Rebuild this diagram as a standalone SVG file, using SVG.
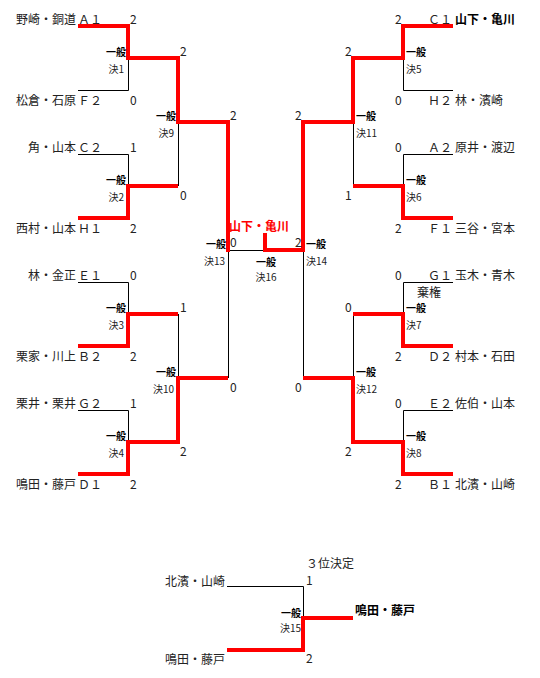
<svg xmlns="http://www.w3.org/2000/svg" width="540" height="678" viewBox="0 0 540 678">
<style>
text{font-family:"Noto Sans CJK JP","Noto Sans",sans-serif;fill:#222}
.n{font-size:12px}
.s{font-size:12px}
.g{font-size:10px;font-weight:bold;fill:#000}
.k{font-size:10px}
.w{font-size:12px;font-weight:bold;fill:#000}
.c{font-size:12px;font-weight:bold;fill:#ff0000}
.e{text-anchor:end}
.m{text-anchor:middle}
.b{fill:none;stroke:#000;stroke-width:1}
.r{fill:none;stroke:#ff0000;stroke-width:4;stroke-linejoin:miter}
</style>
<rect width="540" height="678" fill="#fff"/>
<g id="connectors">
<g class="b">
<polyline points="78,90.5 128.5,90.5 128.5,58"/>
<polyline points="78,154.5 128.5,154.5 128.5,186"/>
<polyline points="178.5,122 178.5,186"/>
<polyline points="78,282.5 128.5,282.5 128.5,314"/>
<polyline points="178.5,314 178.5,378"/>
<polyline points="78,410.5 128.5,410.5 128.5,442"/>
<polyline points="228.5,250 228.5,378"/>
<polyline points="228,250.5 303,250.5"/>
<polyline points="453,90.5 403.5,90.5 403.5,58"/>
<polyline points="453,154.5 403.5,154.5 403.5,186"/>
<polyline points="353.5,122 353.5,186"/>
<polyline points="453,282.5 403.5,282.5 403.5,314"/>
<polyline points="353.5,314 353.5,378"/>
<polyline points="453,410.5 403.5,410.5 403.5,442"/>
<polyline points="303.5,250 303.5,378"/>
<polyline points="227,586.5 303.5,586.5 303.5,618"/>
</g>
<g class="r">
<polyline points="78,26 128,26 128,58 178,58 178,122 228,122 228,252"/>
<polyline points="78,218 128,218 128,186 178,186"/>
<polyline points="78,346 128,346 128,314 178,314"/>
<polyline points="78,474 128,474 128,442 178,442 178,378 228,378"/>
<polyline points="453,26 403,26 403,58 353,58 353,122 303,122 303,250 265,250 265,233"/>
<polyline points="453,218 403,218 403,186 353,186"/>
<polyline points="453,346 403,346 403,314 353,314"/>
<polyline points="453,474 403,474 403,442 353,442 353,378 303,378"/>
<polyline points="227,650 303,650 303,618 353,618"/>
</g>
</g>
<g id="team-L1"><text class="n e" x="76" y="24">野崎・銅道</text><text class="n" x="78" y="24">Ａ１</text></g>
<g id="team-L2"><text class="n e" x="76" y="105">松倉・石原</text><text class="n" x="78" y="105">Ｆ２</text></g>
<g id="team-L3"><text class="n e" x="76" y="152">角・山本</text><text class="n" x="78" y="152">Ｃ２</text></g>
<g id="team-L4"><text class="n e" x="76" y="233">西村・山本</text><text class="n" x="78" y="233">Ｈ１</text></g>
<g id="team-L5"><text class="n e" x="76" y="280">林・金正</text><text class="n" x="78" y="280">Ｅ１</text></g>
<g id="team-L6"><text class="n e" x="76" y="361">栗家・川上</text><text class="n" x="78" y="361">Ｂ２</text></g>
<g id="team-L7"><text class="n e" x="76" y="408">栗井・栗井</text><text class="n" x="78" y="408">Ｇ２</text></g>
<g id="team-L8"><text class="n e" x="76" y="489">鳴田・藤戸</text><text class="n" x="78" y="489">Ｄ１</text></g>
<g id="team-R1"><text class="n" x="428" y="24">Ｃ１</text><text class="w" x="455" y="24">山下・亀川</text></g>
<g id="team-R2"><text class="n" x="428" y="105">Ｈ２</text><text class="n" x="455" y="105">林・濱崎</text></g>
<g id="team-R3"><text class="n" x="428" y="152">Ａ２</text><text class="n" x="455" y="152">原井・渡辺</text></g>
<g id="team-R4"><text class="n" x="428" y="233">Ｆ１</text><text class="n" x="455" y="233">三谷・宮本</text></g>
<g id="team-R5"><text class="n" x="428" y="280">Ｇ１</text><text class="n" x="455" y="280">玉木・青木</text><text class="n" x="417" y="297">棄権</text></g>
<g id="team-R6"><text class="n" x="428" y="361">Ｄ２</text><text class="n" x="455" y="361">村本・石田</text></g>
<g id="team-R7"><text class="n" x="428" y="408">Ｅ２</text><text class="n" x="455" y="408">佐伯・山本</text></g>
<g id="team-R8"><text class="n" x="428" y="489">Ｂ１</text><text class="n" x="455" y="489">北濱・山崎</text></g>
<g id="match1"><text class="s" x="130" y="24">2</text><text class="s" x="130" y="105">0</text><text class="g e" x="126" y="56">一般</text><text class="k e" x="124" y="73">決1</text></g>
<g id="match2"><text class="s" x="130" y="152">1</text><text class="s" x="130" y="233">2</text><text class="g e" x="126" y="184">一般</text><text class="k e" x="124" y="201">決2</text></g>
<g id="match3"><text class="s" x="130" y="280">0</text><text class="s" x="130" y="361">2</text><text class="g e" x="126" y="312">一般</text><text class="k e" x="124" y="329">決3</text></g>
<g id="match4"><text class="s" x="130" y="408">1</text><text class="s" x="130" y="489">2</text><text class="g e" x="126" y="440">一般</text><text class="k e" x="124" y="457">決4</text></g>
<g id="match9"><text class="s" x="180" y="56">2</text><text class="s" x="180" y="200">0</text><text class="g e" x="176" y="120">一般</text><text class="k e" x="174" y="137">決9</text></g>
<g id="match10"><text class="s" x="180" y="312">1</text><text class="s" x="180" y="456">2</text><text class="g e" x="176" y="376">一般</text><text class="k e" x="174" y="393">決10</text></g>
<g id="match13"><text class="s" x="230" y="120">2</text><text class="s" x="230" y="392">0</text><text class="g e" x="226" y="248">一般</text><text class="k e" x="225" y="265">決13</text></g>
<g id="match5"><text class="s" x="395" y="24">2</text><text class="s" x="395" y="105">0</text><text class="g" x="406" y="56">一般</text><text class="k" x="406" y="73">決5</text></g>
<g id="match6"><text class="s" x="395" y="152">0</text><text class="s" x="395" y="233">2</text><text class="g" x="406" y="184">一般</text><text class="k" x="406" y="201">決6</text></g>
<g id="match7"><text class="s" x="395" y="280">0</text><text class="s" x="395" y="361">2</text><text class="g" x="406" y="312">一般</text><text class="k" x="406" y="329">決7</text></g>
<g id="match8"><text class="s" x="395" y="408">0</text><text class="s" x="395" y="489">2</text><text class="g" x="406" y="440">一般</text><text class="k" x="406" y="457">決8</text></g>
<g id="match11"><text class="s" x="345" y="56">2</text><text class="s" x="345" y="200">1</text><text class="g" x="356" y="120">一般</text><text class="k" x="356" y="137">決11</text></g>
<g id="match12"><text class="s" x="345" y="312">0</text><text class="s" x="345" y="456">2</text><text class="g" x="356" y="376">一般</text><text class="k" x="356" y="393">決12</text></g>
<g id="match14"><text class="s" x="295" y="120">2</text><text class="s" x="295" y="392">0</text><text class="g" x="306" y="248">一般</text><text class="k" x="306" y="265">決14</text></g>
<g id="match16"><text class="s" x="230" y="247">0</text><text class="s" x="295" y="247">2</text><text class="g m" x="266" y="266">一般</text><text class="k m" x="266" y="281">決16</text><text class="c m" x="259" y="231">山下・亀川</text></g>
<g id="match15"><text class="n" x="306" y="568">３位決定</text><text class="n e" x="225" y="586">北濱・山崎</text><text class="n e" x="225" y="664">鳴田・藤戸</text><text class="s" x="306" y="585">1</text><text class="s" x="306" y="663">2</text><text class="g e" x="301" y="617">一般</text><text class="k e" x="301" y="632">決15</text><text class="w" x="355" y="615">鳴田・藤戸</text></g>
</svg>
